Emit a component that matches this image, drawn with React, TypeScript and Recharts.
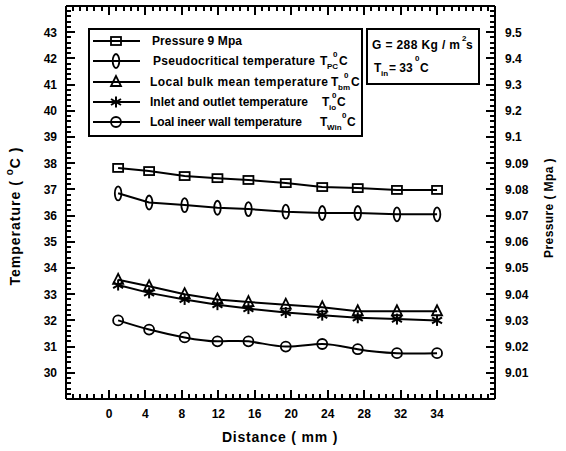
import { LineChart, Line, XAxis, YAxis, Legend, ReferenceLine } from "recharts";

// axis tick labels
const xTickValues = [0, 4, 8, 12, 16, 20, 24, 28, 32, 34];
const xTickLabels = ["0", "4", "8", "12", "16", "20", "24", "28", "32", "34"];
const tempTicks = [30, 31, 32, 33, 34, 35, 36, 37, 38, 39, 40, 41, 42, 43];
const pressureTickValues = [9.01, 9.02, 9.03, 9.04, 9.05, 9.06, 9.07, 9.08, 9.09, 9.1, 9.2, 9.3, 9.4, 9.5];
const pressureTickLabels = ["9.01", "9.02", "9.03", "9.04", "9.05", "9.06", "9.07", "9.08", "9.09", "9.1", "9.2", "9.3", "9.4", "9.5"];

// series
const distance = [1.0, 4.4, 8.3, 11.9, 15.3, 19.4, 23.4, 27.3, 31.6, 34.0];
const pressure = [9.0882, 9.087, 9.0851, 9.0843, 9.0836, 9.0824, 9.0809, 9.0805, 9.0798, 9.0798];
const pseudoTemp = [36.85, 36.5, 36.4, 36.3, 36.25, 36.15, 36.1, 36.1, 36.05, 36.05];
const bulkTemp = [33.55, 33.3, 33.0, 32.8, 32.7, 32.6, 32.5, 32.35, 32.35, 32.35];
const inletOutletTemp = [33.35, 33.05, 32.8, 32.6, 32.45, 32.3, 32.2, 32.1, 32.05, 32.0];
const wallTemp = [32.0, 31.65, 31.35, 31.2, 31.2, 31.0, 31.1, 30.9, 30.75, 30.75];

// the printed axes are not linear in their labels, so place values by tick index
const toTickPos = (v: number, values: number[]) => {
  for (let i = 0; i < values.length - 1; i++) {
    if (v <= values[i + 1] || i === values.length - 2) {
      return i + (v - values[i]) / (values[i + 1] - values[i]);
    }
  }
  return 0;
};

const data = distance.map((d, i) => ({
  x: toTickPos(d, xTickValues),
  pressure: tempTicks[0] + toTickPos(pressure[i], pressureTickValues),
  pseudo: pseudoTemp[i],
  bulk: bulkTemp[i],
  inout: inletOutletTemp[i],
  wall: wallTemp[i],
}));

const W = 566;
const H = 451;
const LEFT_W = 66;
const RIGHT_W = 71;
const TOP_H = 6;
const BOTTOM_H = 52;

const X_DOMAIN: [number, number] = [-1.18, 10.59];
const Y_DOMAIN: [number, number] = [29, 44];

const xTicks: number[] = [];
for (let v = -1; v <= 10.41; v += 0.2) xTicks.push(Math.round(v * 10) / 10);
const yTicks: number[] = [];
for (let v = 29.2; v <= 43.81; v += 0.2) yTicks.push(Math.round(v * 10) / 10);

const FONT = "'Liberation Sans', Arial, sans-serif";
const isInt = (v: number) => Math.abs(v - Math.round(v)) < 1e-6;
const isMajorX = (v: number) => isInt(v) && v >= 0 && v <= 9;
const isMajorY = (v: number) => isInt(v) && v >= 30 && v <= 43;

// frame geometry, same as the chart's plot area
const plotL = LEFT_W;
const plotR = W - RIGHT_W;
const plotT = TOP_H;
const plotB = H - BOTTOM_H;
const px = (v: number) => plotL + ((v - X_DOMAIN[0]) / (X_DOMAIN[1] - X_DOMAIN[0])) * (plotR - plotL);
const py = (v: number) => plotT + ((Y_DOMAIN[1] - v) / (Y_DOMAIN[1] - Y_DOMAIN[0])) * (plotB - plotT);

// inward ticks on all four sides, as small filled bars
const FrameTicks = () => (
  <g fill="#000">
    {xTicks.map((v, i) => {
      const L = isMajorX(v) ? 9 : 5;
      const x = Math.round(px(v)) - 1;
      return (
        <g key={`xt-${i}`}>
          <rect x={x} y={plotB - L} width={2} height={L} />
          <rect x={x} y={plotT} width={2} height={L} />
        </g>
      );
    })}
    {yTicks.map((v, i) => {
      const L = isMajorY(v) ? 9 : 5;
      const y = Math.round(py(v)) - 1;
      return (
        <g key={`yt-${i}`}>
          <rect x={plotL} y={y} width={L} height={2} />
          <rect x={plotR - L} y={y} width={L} height={2} />
        </g>
      );
    })}
  </g>
);

const tickText = { fontFamily: FONT, fontSize: 12, fontWeight: 700, fill: "#000" };

const BottomTick = (p: any) =>
  isMajorX(p.payload.value) ? (
    <text x={p.x} y={Number(p.y) + 18.5} textAnchor="middle" {...tickText}>
      {xTickLabels[Math.round(p.payload.value)]}
    </text>
  ) : (
    <g />
  );

const LeftTick = (p: any) =>
  isMajorY(p.payload.value) ? (
    <text x={Number(p.x) - 9} y={Number(p.y) + 4.3} textAnchor="end" {...tickText}>
      {p.payload.value}
    </text>
  ) : (
    <g />
  );

const RightTick = (p: any) =>
  isMajorY(p.payload.value) ? (
    <text x={Number(p.x) + 10} y={Number(p.y) + 4.3} textAnchor="start" {...tickText}>
      {pressureTickLabels[Math.round(p.payload.value) - tempTicks[0]]}
    </text>
  ) : (
    <g />
  );

// markers
const S = { fill: "none", stroke: "#000", strokeWidth: 1.8 };

const drawSquare = (cx: number, cy: number) => <rect x={cx - 5} y={cy - 4} width={10} height={8} {...S} />;
const drawOval = (cx: number, cy: number) => <ellipse cx={cx} cy={cy} rx={3.3} ry={7} {...S} />;
const drawTriangle = (cx: number, cy: number) => (
  <polygon points={`${cx},${cy - 6} ${cx - 5},${cy + 4} ${cx + 5},${cy + 4}`} {...S} />
);
const drawStar = (cx: number, cy: number) => (
  <g stroke="#000" strokeWidth={2}>
    <line x1={cx} y1={cy - 5.5} x2={cx} y2={cy + 5.5} />
    <line x1={cx - 5} y1={cy - 3} x2={cx + 5} y2={cy + 3} />
    <line x1={cx - 5} y1={cy + 3} x2={cx + 5} y2={cy - 3} />
  </g>
);
const drawCircle = (cx: number, cy: number) => <circle cx={cx} cy={cy} r={5} {...S} />;

const dotOf = (draw: (cx: number, cy: number) => any, name: string) => (p: any) => (
  <g key={`${name}-${p.index}`}>{p.cx == null || p.cy == null ? null : draw(p.cx, p.cy)}</g>
);

const legendText = { fontFamily: FONT, fontSize: 12, fontWeight: 700, fill: "#000" };
const small = { fontFamily: FONT, fontSize: 8, fontWeight: 700, fill: "#000" };

const LegendRow = ({ y, draw, children }: any) => (
  <g>
    <line x1={5} y1={y} x2={52} y2={y} stroke="#000" strokeWidth={2} />
    {draw(28, y)}
    {children}
  </g>
);

// symbol "T sub ^0 C" placed piece by piece (local legend coords)
const TempSymbol = ({ y, tx, sub, subX, supX, cX }: any) => (
  <g>
    <text x={tx} y={y} {...legendText}>T</text>
    <text x={subX} y={y + 4} {...small}>{sub}</text>
    <text x={supX} y={y - 8} {...small}>0</text>
    <text x={cX} y={y} {...legendText}>C</text>
  </g>
);

const Overlay = () => (
  <svg width={W} height={H} style={{ display: "block", pointerEvents: "none" }}>
    <FrameTicks />
    <g transform="translate(88,28)">
      <rect x={1} y={1} width={273} height={107} fill="#fff" stroke="#000" strokeWidth={2} />
      <LegendRow y={13} draw={drawSquare}>
        <text x={64} y={17} textLength={90} lengthAdjust="spacing" {...legendText}>Pressure 9 Mpa</text>
      </LegendRow>
      <LegendRow y={33} draw={drawOval}>
        <text x={65} y={37} textLength={162} lengthAdjust="spacing" {...legendText}>Pseudocritical temperature</text>
        <TempSymbol y={37} tx={232} sub="PC" subX={239} supX={245} cX={251} />
      </LegendRow>
      <LegendRow y={54} draw={drawTriangle}>
        <text x={62} y={58} textLength={178} lengthAdjust="spacing" {...legendText}>Local bulk mean temperature</text>
        <TempSymbol y={58} tx={243} sub="bm" subX={250} supX={256} cX={263} />
      </LegendRow>
      <LegendRow y={74} draw={drawStar}>
        <text x={62} y={78} textLength={158} lengthAdjust="spacing" {...legendText}>Inlet and outlet temperature</text>
        <TempSymbol y={78} tx={234} sub="io" subX={241} supX={244} cX={249} />
      </LegendRow>
      <LegendRow y={94} draw={drawCircle}>
        <text x={62} y={98} textLength={152} lengthAdjust="spacing" {...legendText}>Loal ineer wall temperature</text>
        <TempSymbol y={98} tx={232} sub="Win" subX={239} supX={254} cX={259} />
      </LegendRow>

      <rect x={279} y={1} width={112} height={55} fill="#fff" stroke="#000" strokeWidth={2} />
      <text x={284} y={21} textLength={88} lengthAdjust="spacing" {...legendText}>G = 288 Kg / m</text>
      <text x={374} y={13} {...small}>2</text>
      <text x={378} y={21} {...legendText}>s</text>
      <text x={286} y={44} {...legendText}>T</text>
      <text x={293} y={48} {...small}>in</text>
      <text x={301} y={44} {...legendText}>= 33</text>
      <text x={327} y={33} {...small}>0</text>
      <text x={332} y={44} {...legendText}>C</text>
    </g>
  </svg>
);

const titleText = { fontFamily: FONT, fontWeight: 700, fill: "#000" };

const TempTitle = () => (
  <text x={20} y={216} transform="rotate(-90 20 216)" textAnchor="middle" fontSize={14} letterSpacing={1} {...titleText}>
    Temperature ( <tspan fontSize={10} dy={-7}>o</tspan>
    <tspan dy={7}>C )</tspan>
  </text>
);

const PressureTitle = () => (
  <text x={553} y={208} transform="rotate(-90 553 208)" textAnchor="middle" fontSize={12} letterSpacing={0.4} {...titleText}>
    Pressure ( Mpa )
  </text>
);

const DistanceTitle = () => (
  <text x={280} y={442} textAnchor="middle" fontSize={14} letterSpacing={0.8} {...titleText}>
    Distance ( mm )
  </text>
);

export default function App() {
  return (
    <div style={{ position: "absolute", left: 0, top: 0, width: W, height: H, background: "#fff" }}>
      <LineChart width={W} height={H} data={data} margin={{ top: 0, right: 0, bottom: 0, left: 0 }}>
        <XAxis
          xAxisId="bottom"
          dataKey="x"
          type="number"
          domain={X_DOMAIN}
          ticks={xTicks}
          interval={0}
          height={BOTTOM_H}
          tickSize={0}
          tickMargin={0}
          tickLine={false}
          tick={BottomTick}
          axisLine={false}
          label={<DistanceTitle />}
        />
        <XAxis xAxisId="top" orientation="top" dataKey="x" type="number" domain={X_DOMAIN} height={TOP_H} tick={false} tickLine={false} axisLine={false} />
        <YAxis
          yAxisId="left"
          type="number"
          domain={Y_DOMAIN}
          ticks={yTicks}
          interval={0}
          width={LEFT_W}
          tickSize={0}
          tickMargin={0}
          tickLine={false}
          tick={LeftTick}
          axisLine={false}
          label={<TempTitle />}
        />
        <YAxis
          yAxisId="right"
          orientation="right"
          type="number"
          domain={Y_DOMAIN}
          ticks={yTicks}
          interval={0}
          width={RIGHT_W}
          tickSize={0}
          tickMargin={0}
          tickLine={false}
          tick={RightTick}
          axisLine={false}
          label={<PressureTitle />}
        />
        <ReferenceLine xAxisId="bottom" yAxisId="left" x={X_DOMAIN[0]} stroke="#000" strokeWidth={2} ifOverflow="visible" />
        <ReferenceLine xAxisId="bottom" yAxisId="left" x={X_DOMAIN[1]} stroke="#000" strokeWidth={2} ifOverflow="visible" />
        <ReferenceLine xAxisId="bottom" yAxisId="left" y={Y_DOMAIN[0]} stroke="#000" strokeWidth={2} ifOverflow="visible" />
        <ReferenceLine xAxisId="bottom" yAxisId="left" y={Y_DOMAIN[1]} stroke="#000" strokeWidth={2} ifOverflow="visible" />
        <Legend
          layout="vertical"
          align="center"
          verticalAlign="middle"
          wrapperStyle={{ left: 0, top: 0, width: W, height: H, pointerEvents: "none" }}
          content={() => <Overlay />}
        />
        <Line xAxisId="bottom" yAxisId="right" dataKey="pressure" name="Pressure 9 Mpa" type="linear" stroke="#000" strokeWidth={2} dot={dotOf(drawSquare, "sq")} activeDot={false} isAnimationActive={false} />
        <Line xAxisId="bottom" yAxisId="left" dataKey="pseudo" name="Pseudocritical temperature" type="linear" stroke="#000" strokeWidth={2} dot={dotOf(drawOval, "ov")} activeDot={false} isAnimationActive={false} />
        <Line xAxisId="bottom" yAxisId="left" dataKey="bulk" name="Local bulk mean temperature" type="linear" stroke="#000" strokeWidth={2} dot={dotOf(drawTriangle, "tr")} activeDot={false} isAnimationActive={false} />
        <Line xAxisId="bottom" yAxisId="left" dataKey="inout" name="Inlet and outlet temperature" type="linear" stroke="#000" strokeWidth={2} dot={dotOf(drawStar, "st")} activeDot={false} isAnimationActive={false} />
        <Line xAxisId="bottom" yAxisId="left" dataKey="wall" name="Loal ineer wall temperature" type="natural" stroke="#000" strokeWidth={2} dot={dotOf(drawCircle, "ci")} activeDot={false} isAnimationActive={false} />
      </LineChart>
    </div>
  );
}
